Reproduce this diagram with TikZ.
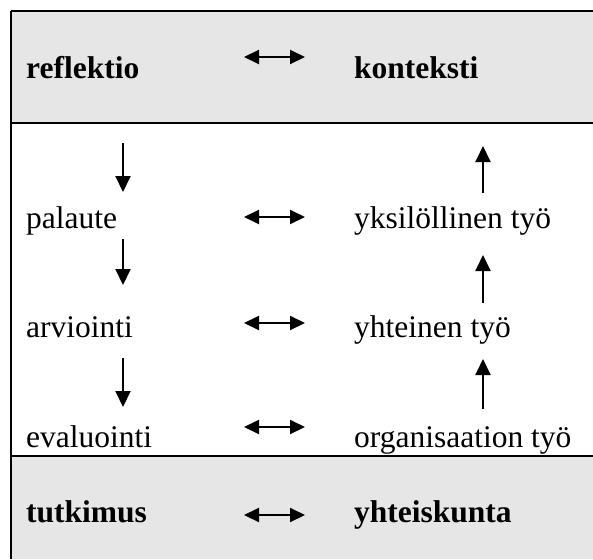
\documentclass[tikz,border=0pt]{standalone}
\usepackage{fontspec}
\setmainfont{Liberation Serif}
\usetikzlibrary{arrows.meta}
\definecolor{band}{HTML}{E6E6E6}
\tikzset{
  lbl/.style={anchor=base west, inner sep=0pt, font=\fontsize{31.5}{36}\selectfont},
  blbl/.style={lbl, font=\fontsize{31.5}{36}\selectfont\bfseries},
  rule/.style={line width=1.3pt},
  arr/.style={line width=2pt, -{Triangle[length=16pt,width=15pt]}},
  darr/.style={line width=2pt, {Triangle[length=15pt,width=14pt]}-{Triangle[length=15pt,width=14pt]}}
}
\begin{document}
\begin{tikzpicture}[x=1pt,y=-1pt]
\useasboundingbox (0,0) rectangle (593,559);
\fill[band] (11,11) rectangle (593,123);
\fill[band] (11,456) rectangle (593,559);
\draw[rule] (11,11) -- (593,11);
\draw[rule] (11,123) -- (593,123);
\draw[rule] (11,456) -- (593,456);
\draw[rule] (11,11) -- (11,559);

\node[blbl] (refl) at (26,79) {reflektio};
\node[blbl] (kont) at (354,79) {konteksti};
\node[lbl] (pal) at (26,228) {palaute};
\node[lbl] (yks) at (354,228) {yksilöllinen työ};
\node[lbl] (arv) at (26,337) {arviointi};
\node[lbl] (yht) at (354,337) {yhteinen työ};
\node[lbl] (eva) at (26,447) {evaluointi};
\node[lbl] (org) at (354,447) {organisaation työ};
\node[blbl] (tut) at (26,522) {tutkimus};
\node[blbl] (yks2) at (354,522) {yhteiskunta};

% horizontal double arrows
\coordinate (h1a) at (244,57);  \coordinate (h1b) at (305,57);
\coordinate (h2a) at (244,217); \coordinate (h2b) at (305,217);
\coordinate (h3a) at (244,323); \coordinate (h3b) at (305,323);
\coordinate (h4a) at (244,427); \coordinate (h4b) at (305,427);
\coordinate (h5a) at (244,515); \coordinate (h5b) at (305,515);
\foreach \i in {1,...,5} \draw[darr] (h\i a) -- (h\i b);

% left down arrows
\coordinate (d1a) at (123,143); \coordinate (d1b) at (123,192);
\coordinate (d2a) at (123,239); \coordinate (d2b) at (123,285);
\coordinate (d3a) at (123,358); \coordinate (d3b) at (123,407);
\foreach \i in {1,2,3} \draw[arr] (d\i a) -- (d\i b);

% right up arrows
\coordinate (u1a) at (483,193); \coordinate (u1b) at (483,146);
\coordinate (u2a) at (483,303); \coordinate (u2b) at (483,255);
\coordinate (u3a) at (483,409); \coordinate (u3b) at (483,359);
\foreach \i in {1,2,3} \draw[arr] (u\i a) -- (u\i b);
\end{tikzpicture}
\end{document}
